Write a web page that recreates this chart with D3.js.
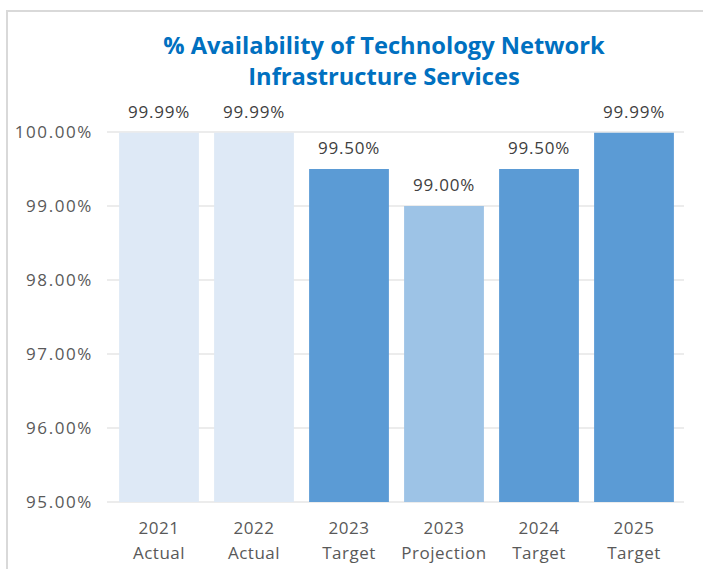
<!DOCTYPE html>
<html><head><meta charset="utf-8">
<script src="https://cdn.jsdelivr.net/npm/d3@7"></script>
<style>
body{margin:0;background:#fff;}
text{font-family:"Open Sans",sans-serif;}
</style></head>
<body><svg id="c" width="703" height="569"></svg>
<script>
const categories = [["2021","Actual"],["2022","Actual"],["2023","Target"],["2023","Projection"],["2024","Target"],["2025","Target"]];
const values = [99.99, 99.99, 99.50, 99.00, 99.50, 99.99];
const barColors = ["#DEE9F6","#DEE9F6","#5B9BD5","#9DC3E6","#5B9BD5","#5B9BD5"];
const yTicks = [95, 96, 97, 98, 99, 100];
const titleLines = ["% Availability of Technology Network","Infrastructure Services"];

const svg = d3.select("#c");
// chart border
svg.append("path").attr("d","M7,569 V11 H703").attr("fill","none").attr("stroke","#d9d9d9").attr("stroke-width",2);

const x = d3.scaleBand().domain(d3.range(categories.length)).range([111.5,681.5]).paddingInner(0.16).paddingOuter(0.08);
const y = d3.scaleLinear().domain([95,100]).range([502,132]);

// gridlines
svg.append("g").selectAll("line").data(yTicks).join("line")
  .attr("x1",107).attr("x2",684).attr("y1",d=>y(d)).attr("y2",d=>y(d))
  .attr("stroke","#d9d9d9").attr("stroke-width",1);

// y labels
svg.append("g").selectAll("text").data(yTicks).join("text")
  .attr("x",93).attr("y",d=>y(d)+6).attr("text-anchor","end")
  .attr("font-size",17).attr("fill","#595959").attr("letter-spacing",1.6)
  .text(d=>d.toFixed(2)+"%");

// bars
svg.append("g").selectAll("rect").data(values).join("rect")
  .attr("x",(d,i)=>x(i)).attr("width",x.bandwidth())
  .attr("y",d=>y(d)).attr("height",d=>y(95)-y(d))
  .attr("fill",(d,i)=>barColors[i]);

// data labels
svg.append("g").selectAll("text").data(values).join("text")
  .attr("x",(d,i)=>x(i)+x.bandwidth()/2).attr("y",d=>y(d)-15)
  .attr("text-anchor","middle").attr("font-size",17).attr("fill","#404040").attr("letter-spacing",0.8)
  .text(d=>d.toFixed(2)+"%");

// category labels
const cg = svg.append("g").selectAll("text").data(categories).join("text")
  .attr("text-anchor","middle").attr("font-size",17).attr("fill","#595959").attr("letter-spacing",0.5);
cg.append("tspan").attr("x",(d,i)=>x(i)+x.bandwidth()/2).attr("y",534).text(d=>d[0]);
cg.append("tspan").attr("x",(d,i)=>x(i)+x.bandwidth()/2).attr("y",559).text(d=>d[1]);

// title
svg.append("g").selectAll("text").data(titleLines).join("text")
  .attr("x",384).attr("y",(d,i)=>54+i*31).attr("text-anchor","middle")
  .attr("font-size",23.7).attr("font-weight","bold").attr("fill","#0070C0")
  .text(d=>d);
</script></body></html>
